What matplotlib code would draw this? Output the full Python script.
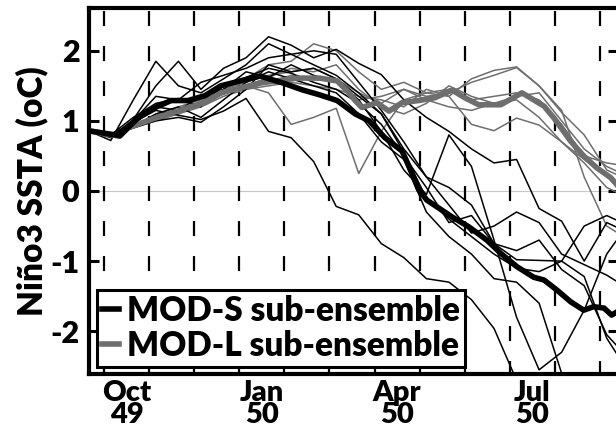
import matplotlib
matplotlib.use("Agg")
import matplotlib.pyplot as plt

# x axis is months since 1 Oct 1949 (0 = Oct 1, 3 = Jan 1, 6 = Apr 1, 9 = Jul 1)
month_edges = list(range(0, 12))
label_pos = [0.5, 3.5, 6.5, 9.5]
label_text = ["Oct\n49", "Jan\n50", "Apr\n50", "Jul\n50"]

# MOD-S sub-ensemble mean (thick black)
t_mean_s = [-0.35, 0.35, 0.75, 1.13, 1.49, 1.86, 2.24, 2.59, 3.02, 3.46, 3.97, 4.41, 4.79,
            5.17, 5.57, 5.88, 6.23, 6.61, 6.78, 6.98, 7.16, 7.72, 8.09, 8.49, 8.80, 9.16,
            9.53, 9.76, 10.04, 10.35, 10.64, 10.86, 11.09, 11.26, 11.44]
mean_s = [0.86, 0.79, 1.04, 1.19, 1.29, 1.29, 1.36, 1.50, 1.57, 1.64, 1.54, 1.44, 1.37,
          1.29, 1.10, 1.00, 0.76, 0.57, 0.33, 0.02, -0.13, -0.37, -0.51, -0.70, -0.89, -1.08,
          -1.23, -1.27, -1.41, -1.58, -1.70, -1.65, -1.67, -1.77, -1.70]

# MOD-L sub-ensemble mean (thick grey)
t_mean_l = [-0.35, 0.35, 0.53, 1.13, 1.49, 1.86, 2.24, 2.59, 3.02, 3.46, 4.28, 4.79, 5.17,
            5.39, 5.57, 5.72, 6.05, 6.32, 6.61, 6.98, 7.34, 7.72, 8.00, 8.31, 8.80, 9.27,
            9.76, 9.98, 10.35, 10.64, 10.93, 11.24, 11.44]
mean_l = [0.86, 0.78, 0.90, 1.04, 1.11, 1.19, 1.26, 1.40, 1.47, 1.54, 1.61, 1.61, 1.57,
          1.43, 1.29, 1.19, 1.26, 1.14, 1.26, 1.29, 1.33, 1.44, 1.33, 1.23, 1.23, 1.40,
          1.21, 1.04, 0.71, 0.50, 0.33, 0.19, 0.04]

# individual members, sampled every half month
t_member = [-0.35, 0.15, 0.65, 1.15, 1.65, 2.15, 2.65, 3.15, 3.65, 4.15, 4.65, 5.15, 5.65,
            6.15, 6.65, 7.15, 7.65, 8.15, 8.65, 9.15, 9.65, 10.15, 10.65, 11.15, 11.65]

short_members = [
    [0.86, 0.80, 0.98, 1.15, 1.08, 1.02, 1.14, 1.32, 0.85, 0.76, 0.42, -0.22, -0.34,
     -0.75, -0.95, -1.25, -1.30, -1.55, -1.96, -2.70, -3.0, -3.0, -3.0, -3.0, -3.0],
    [0.86, 0.76, 1.02, 1.50, 1.85, 1.45, 1.75, 1.90, 2.20, 2.08, 1.90, 2.02, 1.82,
     1.66, 1.30, 1.05, 0.85, 0.60, 0.40, 0.45, -0.25, -0.43, -1.00, -0.45, -0.60],
    [0.86, 0.78, 0.95, 1.20, 1.15, 1.35, 1.45, 1.70, 1.62, 1.80, 1.65, 1.55, 1.30,
     0.85, 0.30, -0.05, 0.80, 0.35, -0.70, -1.80, -2.55, -2.30, -1.70, -0.90, -0.45],
    [0.86, 0.80, 1.05, 1.25, 1.32, 1.20, 1.50, 1.62, 1.75, 1.68, 1.55, 1.45, 1.25,
     0.95, 0.50, 0.05, -0.45, -0.35, -0.75, -0.85, -0.70, -1.12, -1.35, -2.05, -2.40],
    [0.86, 0.80, 0.92, 1.10, 1.20, 1.05, 1.30, 1.55, 1.70, 1.60, 1.50, 1.40, 1.10,
     0.70, 0.45, -0.30, -0.65, -0.90, -1.25, -1.30, -1.60, -2.60, -3.0, -3.0, -3.0],
    [0.86, 0.78, 1.00, 1.35, 1.30, 1.55, 1.65, 1.75, 1.90, 1.95, 2.00, 1.95, 1.55,
     1.15, 0.70, 0.20, 0.05, -0.20, -0.75, -0.98, -0.99, -1.00, -1.22, -2.10, -2.60],
    [0.86, 0.72, 1.30, 1.85, 1.50, 1.40, 1.60, 1.80, 2.10, 1.95, 1.80, 1.65, 1.40,
     1.10, 0.60, 0.20, -0.20, -0.60, -0.50, -0.30, -0.45, -0.90, -1.05, -1.20, -1.40],
    [0.86, 0.80, 0.90, 1.00, 1.05, 0.98, 1.20, 1.45, 1.80, 1.70, 1.75, 1.60, 1.35,
     1.10, 0.55, -0.10, -0.40, -0.65, -0.90, -1.10, -1.15, -1.00, -0.50, -0.35, -0.50],
]

long_members = [
    [0.86, 0.80, 0.95, 1.05, 1.10, 1.25, 1.40, 1.50, 1.40, 0.95, 1.05, 1.18, 0.25,
     0.85, 1.30, 1.40, 1.45, 1.30, 1.35, 1.40, 1.30, 0.95, 0.50, 0.40, 0.35],
    [0.86, 0.78, 0.92, 1.08, 1.20, 1.30, 1.45, 1.60, 1.80, 1.85, 2.10, 2.00, 1.70,
     1.45, 1.55, 1.40, 1.35, 1.60, 1.72, 1.77, 1.50, 1.12, 0.80, 0.30, 0.15],
    [0.86, 0.80, 0.90, 1.00, 1.10, 1.20, 1.35, 1.45, 1.50, 1.55, 1.50, 1.45, 1.35,
     1.30, 1.20, 1.45, 1.35, 0.95, 0.86, 1.04, 0.94, 0.70, 0.45, 0.20, -0.05],
    [0.86, 0.80, 0.94, 1.06, 1.15, 1.28, 1.45, 1.55, 1.65, 1.70, 1.75, 1.60, 1.40,
     1.25, 1.45, 1.35, 1.40, 1.55, 1.65, 1.76, 1.50, 1.15, 0.20, -0.50, -0.70],
    [0.86, 0.80, 0.92, 1.02, 1.12, 1.25, 1.38, 1.50, 1.62, 1.75, 1.70, 1.80, 1.45,
     1.20, 1.10, 1.25, 1.50, 1.35, 1.25, 1.35, 1.40, 1.00, 0.60, 0.35, 0.20],
    [0.86, 0.79, 0.90, 1.05, 1.15, 1.22, 1.42, 1.45, 1.55, 1.65, 1.60, 1.55, 1.30,
     1.35, 1.45, 1.30, 1.20, 1.15, 1.25, 1.30, 1.05, 0.70, 0.40, 0.05, -0.10],
]

plt.rcParams["font.family"] = ["Lato", "DejaVu Sans"]
plt.rcParams["font.weight"] = "heavy"
plt.rcParams["lines.scale_dashes"] = False

grey = "#6e6e6e"

fig = plt.figure(figsize=(6.16, 4.32), dpi=100)
ax = fig.add_axes([89 / 616, 58 / 432, 529 / 616, 366 / 432])

# zero line and dashed month lines
ax.axhline(0, color="#c8c8c8", lw=0.8, zorder=1)
for m in month_edges:
    ax.plot([m, m], [1, 0], transform=ax.get_xaxis_transform(), color="black",
            lw=1.6, linestyle=(23, (10.8, 14.4)), zorder=1, clip_on=True)

for vals in long_members:
    ax.plot(t_member, vals, color=grey, lw=1.1, zorder=2)
for vals in short_members:
    ax.plot(t_member, vals, color="black", lw=1.1, zorder=2)

ax.plot(t_mean_l, mean_l, color=grey, lw=4, zorder=3, label="MOD-L sub-ensemble")
ax.plot(t_mean_s, mean_s, color="black", lw=4, zorder=4, label="MOD-S sub-ensemble")

ax.set_xlim(-0.333, 11.40)
ax.set_ylim(-2.61, 2.61)

ax.set_yticks([-2, -1, 0, 1, 2])
ax.set_yticklabels(["-2", "-1", "0", "1", "2"])
ax.tick_params(axis="y", direction="in", length=7, width=2.2, labelsize=22,
               pad=7, left=True, right=True)
ax.set_xticks(month_edges)
ax.set_xticklabels([])
ax.set_xticks(label_pos, minor=True)
ax.set_xticklabels(label_text, minor=True, fontsize=21, linespacing=0.85)
ax.tick_params(axis="x", which="both", length=0, pad=4)

for side in ["left", "bottom", "top", "right"]:
    ax.spines[side].set_linewidth(3)

ax.set_ylabel("Niño3 SSTA (oC)", fontsize=24, fontweight="heavy", labelpad=1)

handles, labels = ax.get_legend_handles_labels()
leg = ax.legend(handles[::-1], labels[::-1], loc="lower left",
                bbox_to_anchor=(0.015, 0.019), borderaxespad=0, fontsize=24,
                handlelength=0.5, handletextpad=0.25, labelspacing=0.1,
                borderpad=0.15, fancybox=False, framealpha=1, edgecolor="black")
leg.get_frame().set_linewidth(2.2)
leg.set_zorder(10)

fig.savefig("out.png", dpi=100)
